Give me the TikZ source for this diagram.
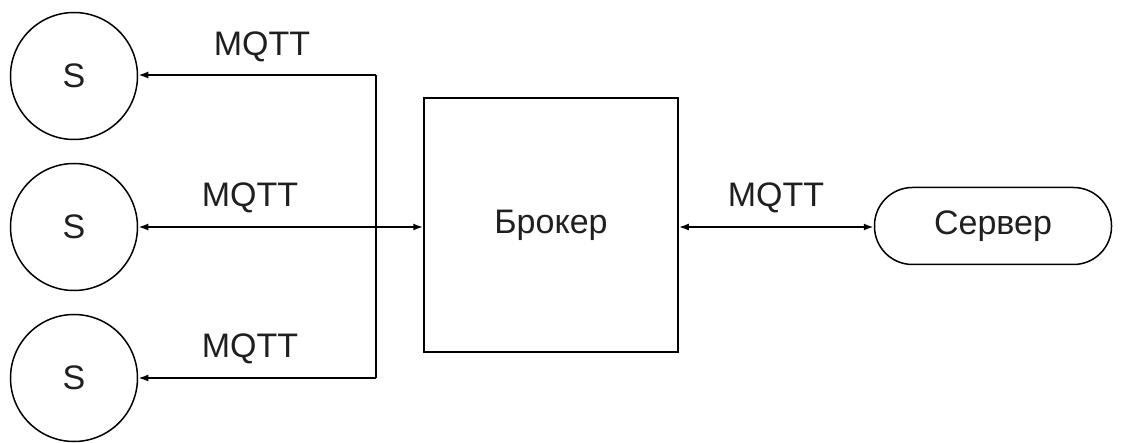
\documentclass[tikz,border=0pt]{standalone}
\usepackage{fontspec}
\setmainfont{Liberation Sans}
\usetikzlibrary{arrows.meta}
\begin{document}
\begin{tikzpicture}[x=1pt,y=-1pt,
  every node/.style={font=\fontsize{34}{38}\selectfont, text=black!88},
  sens/.style={draw=black, line width=1.5pt, circle, minimum size=127pt, inner sep=0pt},
  broker/.style={draw=black, line width=1.5pt, rectangle, minimum width=254pt, minimum height=254pt},
  server/.style={draw=black, line width=1.5pt, rectangle, rounded corners=38pt, minimum width=237pt, minimum height=77pt},
  conn/.style={line width=1.8pt},
  tip/.style={-{Latex[length=10pt,width=7pt]}},
  both/.style={{Latex[length=10pt,width=7pt]}-{Latex[length=10pt,width=7pt]}},
  lbl/.style={inner sep=0pt}]
\useasboundingbox (0,0) rectangle (1137,443);
\node[sens] (s1) at (74,76) {S};
\node[sens] (s2) at (74,227) {S};
\node[sens] (s3) at (74,378) {S};
\node[broker] (b) at (551,225) {Брокер};
\node[server] (srv) at (993,226) {Сервер};
\coordinate (jt) at (376,75);
\coordinate (jb) at (376,378);
\draw[conn] (jt) -- (jb);
\draw[conn,tip] (jt) -- (s1.east |- jt);
\draw[conn,tip] (jb) -- (s3.east |- jb);
\draw[conn,both] (s2.east |- 0,227) -- (b.west |- 0,227);
\draw[conn,both] (b.east |- 0,227) -- (srv.west |- 0,227);
\node[lbl] (l1) at (262,47) {MQTT};
\node[lbl] (l2) at (250,198) {MQTT};
\node[lbl] (l3) at (250,349) {MQTT};
\node[lbl] (l4) at (776,198) {MQTT};
\end{tikzpicture}
\end{document}
